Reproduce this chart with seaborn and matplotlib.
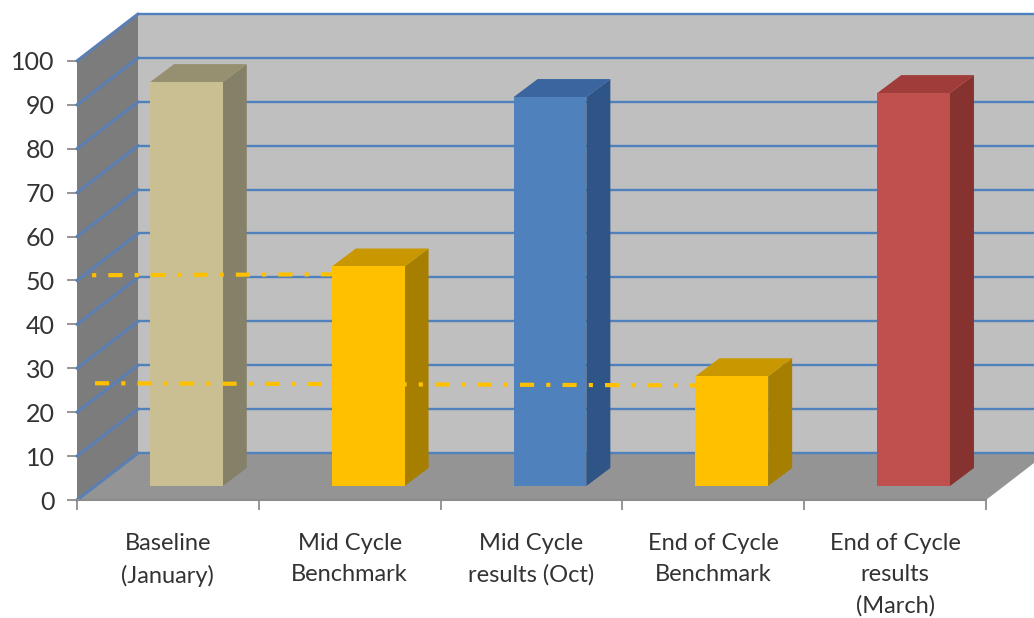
import matplotlib
matplotlib.use("Agg")
import matplotlib.pyplot as plt
import pandas as pd
import seaborn as sns
from matplotlib.patches import Polygon, Rectangle
from matplotlib.transforms import Affine2D

# values
categories = ["Baseline\n(January)", "Mid Cycle\nBenchmark", "Mid Cycle\nresults (Oct)",
              "End of Cycle\nBenchmark", "End of Cycle\nresults\n(March)"]
values = [92, 50, 88.6, 25, 89.5]
front_colors = ["#c9bf92", "#ffc000", "#4f81bd", "#ffc000", "#c0504d"]
side_colors = ["#858068", "#a67f00", "#2f5587", "#a67f00", "#86332f"]
top_colors = ["#979070", "#c99800", "#3a659e", "#c99800", "#a03c39"]
y_ticks = list(range(0, 101, 10))

benchmark_50 = [51.2, 51.4]
benchmark_25 = [26.6, 26.1]

sns.set_style("white")
plt.rcParams["font.family"] = ["Lato", "DejaVu Sans"]

fig = plt.figure(figsize=(10.34, 6.18), dpi=100)
ax = fig.add_axes([77 / 1034, 118 / 618, 909 / 1034, 439 / 618])
ax.patch.set_visible(False)

df = pd.DataFrame({"stage": categories, "value": values})
sns.barplot(data=df, x="stage", y="value", hue="stage", palette=front_colors,
            width=0.4, legend=False, saturation=1, linewidth=0, ax=ax)
ax.set_xlim(-0.5, 4.5)
ax.set_ylim(0, 100)
bars = [p for p in ax.patches if isinstance(p, Rectangle) and p.get_height() > 0]

# pixel offsets for the fake 3d look
base = ax.transData
wall = base + Affine2D().translate(61, 47)
bar_shift = base + Affine2D().translate(18.5, 14)
bar_back = base + Affine2D().translate(42.5, 32)


def on_base(trans, pts):
    # express points given in a shifted plane in plain data coords
    return base.inverted().transform(trans.transform(pts))


# walls and floor
x0, x1 = -0.5, 4.5
ax.add_patch(Polygon([(x0, 0), (x1, 0), (x1, 100), (x0, 100)], transform=wall,
                     fc="#c0bfbf", ec="none", zorder=0, clip_on=False))
side_back = on_base(wall, [(x0, 100), (x0, 0)])
ax.add_patch(Polygon([(x0, 0), (x0, 100), *side_back], fc="#7c7c7c", ec="none",
                     zorder=0.5, clip_on=False))
floor_back = on_base(wall, [(x1, 0), (x0, 0)])
ax.add_patch(Polygon([(x0, 0), (x1, 0), *floor_back], fc="#949494", ec="none",
                     zorder=0.6, clip_on=False))

# gridlines on back wall and side wall
for v in y_ticks:
    ax.plot([x0, x1], [v, v], transform=wall, color="#4f81bd", lw=1.7, zorder=1, clip_on=False)
    back = on_base(wall, [(x0, v)])[0]
    ax.plot([x0, back[0]], [v, back[1]], color="#5b7fb3", lw=2.3, zorder=1.1, clip_on=False)

# bars: front face from seaborn, side and top worked out from it
for i, bar in enumerate(bars):
    z = 4 + i * 0.1
    bar.set_transform(bar_shift)
    bar.set_zorder(z + 0.02)
    bar.set_clip_on(False)
    l, r, h = bar.get_x(), bar.get_x() + bar.get_width(), bar.get_height()
    fr0, fr, fl = on_base(bar_shift, [(r, 0), (r, h), (l, h)])
    br0, br, bl = on_base(bar_back, [(r, 0), (r, h), (l, h)])
    ax.add_patch(Polygon([fr0, br0, br, fr], fc=side_colors[i], ec="none", zorder=z, clip_on=False))
    ax.add_patch(Polygon([fl, bl, br, fr], fc=top_colors[i], ec="none", zorder=z + 0.01, clip_on=False))

# benchmark lines run over everything except the front of bar 2
bars[1].set_zorder(6)
ax.plot([-0.417, 0.90], benchmark_50, color="#ffc000", lw=3, ls=(6.3, (3.4, 2.9, 1, 2.9)),
        zorder=5, clip_on=False)
ax.plot([-0.401, 2.90], benchmark_25, color="#ffc000", lw=3, ls=(0, (3.4, 2.9, 1, 2.9)),
        zorder=5, clip_on=False)

# axes furniture
for s in ["top", "right", "left"]:
    ax.spines[s].set_visible(False)
ax.spines["bottom"].set_color("#8c8c8c")
ax.spines["bottom"].set_linewidth(1.5)
ax.set_xlabel("")
ax.set_ylabel("")
ax.set_yticks(y_ticks)
ax.set_xticks(range(5))
ax.set_xticklabels(categories, linespacing=1.58)
ax.set_xticks([i - 0.5 for i in range(6)], minor=True)
ax.tick_params(axis="x", which="major", length=0, pad=24, labelsize=17, labelcolor="#333333")
ax.tick_params(axis="x", which="minor", length=7, width=1.3, color="#8c8c8c", bottom=True)
ax.tick_params(axis="y", length=7, width=1.3, color="#8c8c8c", pad=9, labelsize=18,
               labelcolor="#333333", left=True)

fig.savefig("out.png", dpi=100, facecolor="white")
